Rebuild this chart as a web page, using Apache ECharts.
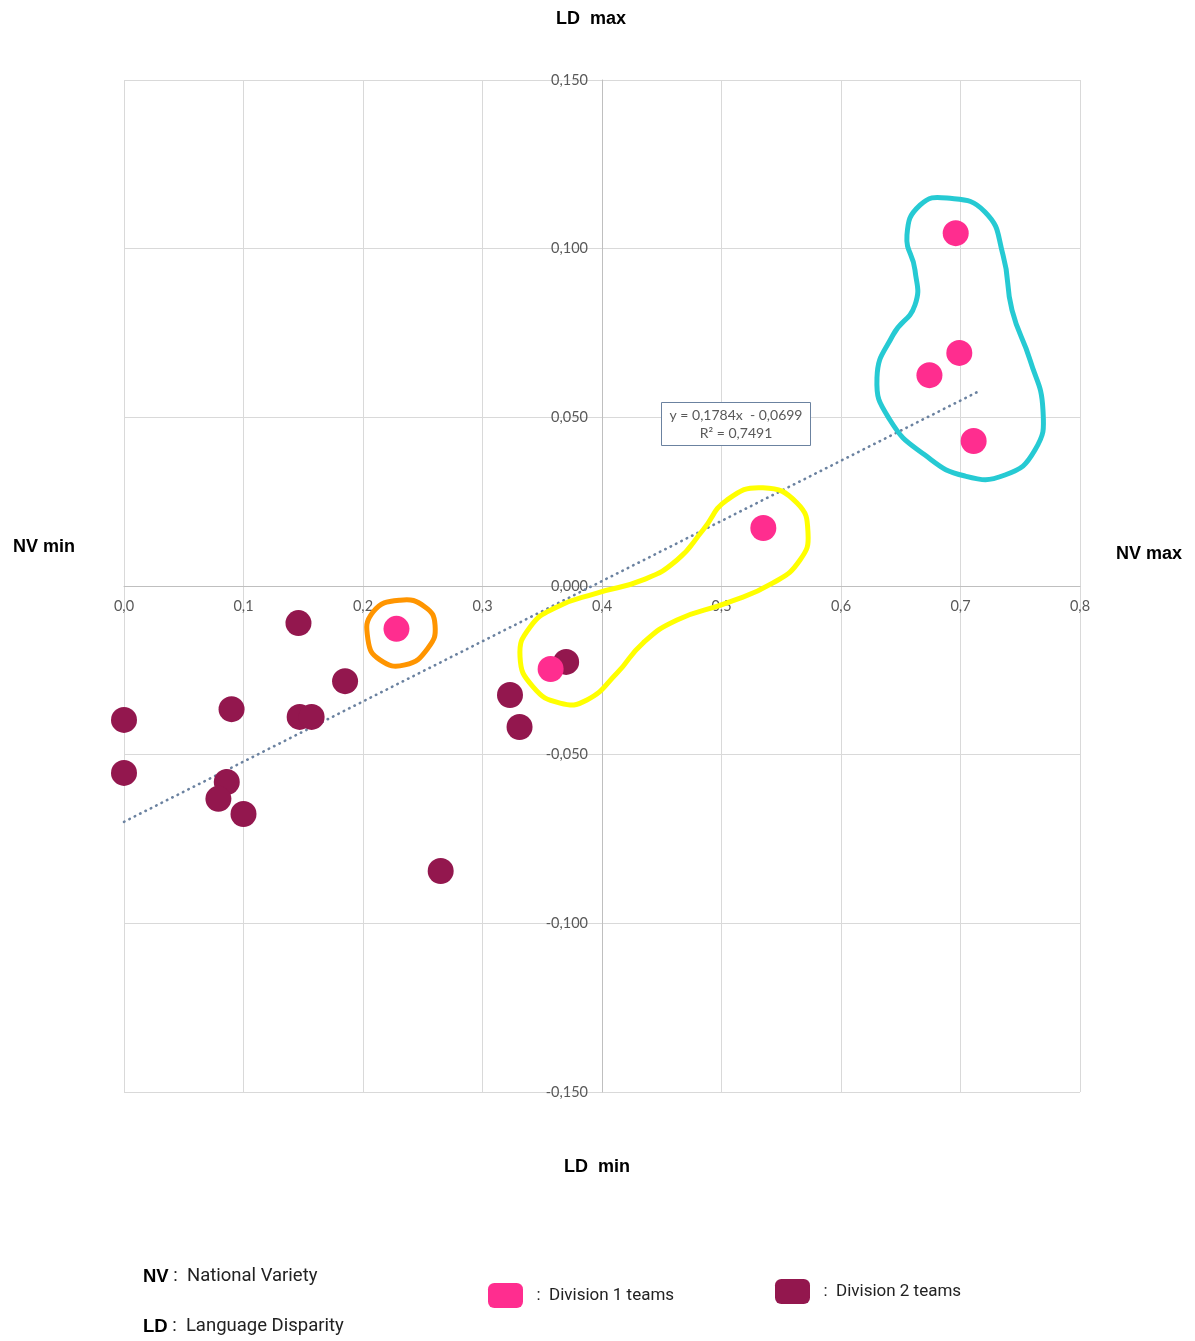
<!DOCTYPE html>
<html>
<head>
<meta charset="utf-8">
<title>NV / LD</title>
<script src="https://cdn.jsdelivr.net/npm/echarts@6/dist/echarts.min.js"></script>
<style>
	html, body { margin: 0; padding: 0; background: #fff; }
	#main { width: 1195px; height: 1341px; }
</style>
</head>
<body>
<div id="main"></div>
<script>
	// Division 1 teams [NV, LD]
	var div1 = [
		[0.696, 0.1046], [0.699, 0.0691], [0.674, 0.0625], [0.711, 0.0430],
		[0.535, 0.0172], [0.357, -0.0246], [0.228, -0.0127]
	];
	// Division 2 teams [NV, LD]
	var div2 = [
		[0.146, -0.0110], [0.090, -0.0365], [0.000, -0.0397], [0.000, -0.0554],
		[0.185, -0.0282], [0.147, -0.0388], [0.157, -0.0388], [0.086, -0.0581],
		[0.079, -0.0631], [0.100, -0.0676], [0.265, -0.0845], [0.323, -0.0323],
		[0.331, -0.0418], [0.370, -0.0225]
	];
	// trend line y = 0,1784x - 0,0699
	var slope = 0.1784, intercept = -0.0699;
	var trendX = [0, 0.715];

	// hand drawn circles (outline points, data coords)
	var cyanBlob = [
		[0.6887, 0.1150], [0.7205, 0.1109], [0.7356, 0.0981], [0.7431, 0.0818], [0.7582, 0.0670],
		[0.7690, 0.0522], [0.7623, 0.0403], [0.7372, 0.0329], [0.7038, 0.0326], [0.6703, 0.0388],
		[0.6410, 0.0492], [0.6301, 0.0617], [0.6435, 0.0744], [0.6619, 0.0833], [0.6619, 0.0937],
		[0.6552, 0.1040], [0.6661, 0.1129]
	];
	var yellowBlob = [
		[0.5347, 0.0291], [0.5632, 0.0246], [0.5724, 0.0157], [0.5657, 0.0077], [0.5431, 0.0009],
		[0.5046, -0.0050], [0.4628, -0.0101], [0.4343, -0.0169], [0.4126, -0.0258], [0.3874, -0.0338],
		[0.3649, -0.0347], [0.3423, -0.0299], [0.3314, -0.0210], [0.3397, -0.0122], [0.3623, -0.0062],
		[0.3958, -0.0021], [0.4343, 0.0018], [0.4628, 0.0077], [0.4845, 0.0166], [0.5046, 0.0255]
	];
	var orangeBlob = [
		[0.2310, -0.0042], [0.2519, -0.0062], [0.2603, -0.0116], [0.2544, -0.0184],
		[0.2351, -0.0234], [0.2142, -0.0219], [0.2042, -0.0160], [0.2084, -0.0077]
	];

	var comma = function (v, d) { return v.toFixed(d).replace('.', ','); };

	function blobSeries(pts, color) {
		return {
			type: 'custom',
			data: pts,
			silent: true,
			clip: false,
			z: 5,
			renderItem: function (params, api) {
				if (params.dataIndex !== 0) return null;
				var p = pts.map(function (d) { return api.coord(d); });
				return {
					type: 'polygon',
					shape: { points: p, smooth: 0.5 },
					style: { fill: 'none', stroke: color, lineWidth: 5 }
				};
			}
		};
	}

	var trendData = trendX.map(function (x) { return [x, slope * x + intercept]; });

	var myChart = echarts.init(document.getElementById('main'));
	var labelFont = { color: '#595959', fontFamily: 'Lato', fontSize: 14.5 };
	var boldFont = 'bold 18px "Liberation Sans", Arial, sans-serif';
	var normalFont = '18.5px Roboto, sans-serif';
	var boldRich = { b: { fontWeight: 'bold', fontFamily: '"Liberation Sans", sans-serif', fontSize: 18.5, fill: '#000' } };

	var option = {
		animation: false,
		grid: { left: 124, right: 115, top: 80, bottom: 249 },
		xAxis: {
			type: 'value',
			min: 0, max: 0.8, interval: 0.1,
			offset: -506,
			axisLine: { onZero: false, lineStyle: { color: '#bfbfbf', width: 1 } },
			axisTick: { show: false },
			splitLine: { lineStyle: { color: '#d9d9d9' } },
			axisLabel: Object.assign({ margin: 13, formatter: function (v) { return comma(v, 1); } }, labelFont)
		},
		yAxis: {
			type: 'value',
			min: -0.15, max: 0.15, interval: 0.05,
			offset: -478,
			axisLine: { show: true, onZero: false, lineStyle: { color: '#bfbfbf', width: 1 } },
			axisTick: { show: false },
			splitLine: { lineStyle: { color: '#d9d9d9' } },
			axisLabel: Object.assign({ margin: 14, formatter: function (v) { return comma(v, 3); } }, labelFont)
		},
		legend: [
			{
				data: ['Division 1 teams'], left: 488, top: 1283, padding: 0,
				itemWidth: 35, itemHeight: 25, icon: 'roundRect', selectedMode: false,
				formatter: '  :  {name}',
				textStyle: { fontFamily: 'Roboto', fontSize: 17, color: '#222' }
			},
			{
				data: ['Division 2 teams'], left: 775, top: 1279, padding: 0,
				itemWidth: 35, itemHeight: 25, icon: 'roundRect', selectedMode: false,
				formatter: '  :  {name}',
				textStyle: { fontFamily: 'Roboto', fontSize: 17, color: '#222' }
			}
		],
		graphic: [
			{ type: 'text', left: 556, top: 10, style: { text: 'LD  max', font: boldFont, fill: '#000' } },
			{ type: 'text', left: 13, top: 538, style: { text: 'NV min', font: boldFont, fill: '#000' } },
			{ type: 'text', left: 1116, top: 545, style: { text: 'NV max', font: boldFont, fill: '#000' } },
			{ type: 'text', left: 564, top: 1158, style: { text: 'LD  min', font: boldFont, fill: '#000' } },
			{
				type: 'group', left: 661, top: 402,
				children: [
					{ type: 'rect', z: 100, shape: { x: 0, y: 0, width: 149, height: 43 },
						style: { fill: '#fff', stroke: '#6b82a0', lineWidth: 1 } },
					{ type: 'text', z: 101, x: 74.5, y: 4,
						style: { text: 'y = 0,1784x  - 0,0699\nR² = 0,7491', align: 'center',
							fill: '#595959', font: '14px Lato, sans-serif', lineHeight: 18 } }
				]
			},
			{
				type: 'text', left: 143, top: 1267,
				style: { text: '{b|NV} :  National Variety', font: normalFont, fill: '#222', rich: boldRich }
			},
			{
				type: 'text', left: 143, top: 1317,
				style: { text: '{b|LD} :  Language Disparity', font: normalFont, fill: '#222', rich: boldRich }
			}
		],
		series: [
			{
				name: 'trend',
				type: 'line',
				data: trendData,
				symbol: 'none',
				silent: true,
				z: 2,
				lineStyle: { color: '#6b82a0', width: 2.6, type: [0.5, 5.5], cap: 'round' }
			},
			{
				name: 'Division 2 teams',
				type: 'scatter',
				data: div2,
				symbolSize: 26,
				z: 3,
				itemStyle: { color: '#93174E', opacity: 1 }
			},
			{
				name: 'Division 1 teams',
				type: 'scatter',
				data: div1,
				symbolSize: 26,
				z: 4,
				itemStyle: { color: '#FF2D8F', opacity: 1 }
			},
			blobSeries(cyanBlob, '#26CAD3'),
			blobSeries(yellowBlob, '#FFFF00'),
			blobSeries(orangeBlob, '#FF9500')
		]
	};
	myChart.setOption(option);
</script>
</body>
</html>
